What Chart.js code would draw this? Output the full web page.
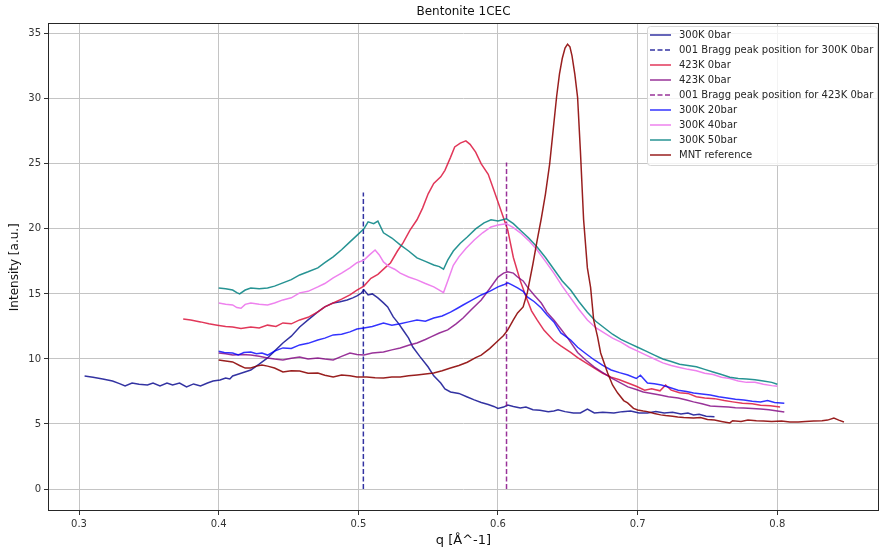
<!DOCTYPE html>
<html>
<head>
<meta charset="utf-8">
<title>Bentonite 1CEC</title>
<script src="https://cdn.jsdelivr.net/npm/chart.js@4.4.0/dist/chart.umd.min.js"></script>
<style>
  html, body { margin: 0; padding: 0; background: #fff; }
</style>
</head>
<body>
<canvas id="saxs-chart" width="879" height="551"></canvas>
<script>
// scattering curves, [q (1/Å), intensity (a.u.)]
const k300bar0 = [
  [0.304, 8.69], [0.31, 8.6], [0.317, 8.46], [0.324, 8.3], [0.329, 8.1], [0.333, 7.92], [0.338, 8.15],
  [0.343, 8.05], [0.349, 8.0], [0.353, 8.15], [0.358, 7.92], [0.363, 8.15], [0.367, 8.0], [0.372, 8.15],
  [0.377, 7.85], [0.382, 8.08], [0.387, 7.92], [0.392, 8.15], [0.396, 8.3], [0.401, 8.38], [0.405, 8.54],
  [0.408, 8.46], [0.41, 8.69], [0.416, 8.9], [0.423, 9.15], [0.429, 9.6], [0.435, 10.08], [0.44, 10.6],
  [0.446, 11.23], [0.452, 11.75], [0.458, 12.46], [0.464, 13.0], [0.471, 13.62], [0.476, 14.0],
  [0.482, 14.31], [0.487, 14.4], [0.492, 14.54], [0.496, 14.7], [0.499, 14.85], [0.502, 15.05],
  [0.504, 15.31], [0.507, 14.92], [0.51, 15.0], [0.514, 14.69], [0.518, 14.31], [0.521, 14.0],
  [0.525, 13.23], [0.529, 12.7], [0.532, 12.23], [0.536, 11.6], [0.539, 10.92], [0.544, 10.2],
  [0.55, 9.38], [0.554, 8.7], [0.559, 8.15], [0.562, 7.7], [0.566, 7.46], [0.572, 7.35], [0.578, 7.08],
  [0.583, 6.85], [0.588, 6.65], [0.593, 6.5], [0.597, 6.35], [0.6, 6.2], [0.604, 6.3], [0.607, 6.46],
  [0.611, 6.35], [0.616, 6.23], [0.62, 6.3], [0.625, 6.1], [0.63, 6.05], [0.636, 5.95], [0.64, 6.0],
  [0.643, 6.1], [0.648, 5.95], [0.654, 5.85], [0.659, 5.85], [0.664, 6.15], [0.669, 5.85], [0.675, 5.9],
  [0.683, 5.85], [0.689, 5.95], [0.695, 6.0], [0.701, 5.85], [0.707, 5.85], [0.713, 5.95], [0.719, 5.85],
  [0.725, 5.9], [0.731, 5.77], [0.736, 5.85], [0.74, 5.7], [0.744, 5.75], [0.749, 5.6], [0.755, 5.55],
];

const k423bar0 = [
  [0.3746, 13.08], [0.38, 13.0], [0.387, 12.85], [0.393, 12.7], [0.399, 12.6], [0.405, 12.5], [0.41, 12.46],
  [0.416, 12.35], [0.423, 12.46], [0.429, 12.38], [0.435, 12.6], [0.441, 12.5], [0.446, 12.77],
  [0.452, 12.7], [0.458, 13.0], [0.464, 13.2], [0.471, 13.62], [0.476, 14.0], [0.482, 14.3], [0.488, 14.6],
  [0.494, 14.92], [0.499, 15.3], [0.504, 15.6], [0.509, 16.2], [0.514, 16.5], [0.52, 17.1], [0.523, 17.38],
  [0.528, 18.3], [0.532, 18.92], [0.537, 19.9], [0.542, 20.7], [0.546, 21.6], [0.55, 22.7], [0.554, 23.5],
  [0.559, 24.0], [0.562, 24.5], [0.566, 25.5], [0.569, 26.3], [0.573, 26.6], [0.577, 26.77], [0.58, 26.5],
  [0.584, 25.9], [0.588, 25.0], [0.593, 24.2], [0.597, 23.0], [0.602, 21.46], [0.607, 19.9], [0.611, 17.8],
  [0.616, 16.0], [0.62, 14.8], [0.624, 13.7], [0.628, 13.0], [0.633, 12.2], [0.64, 11.4], [0.645, 11.0],
  [0.652, 10.5], [0.657, 10.1], [0.663, 9.7], [0.669, 9.3], [0.675, 8.9], [0.681, 8.6], [0.687, 8.4],
  [0.693, 8.15], [0.699, 7.9], [0.705, 7.6], [0.71, 7.7], [0.716, 7.55], [0.72, 8.0], [0.724, 7.6],
  [0.73, 7.4], [0.736, 7.35], [0.742, 7.1], [0.748, 7.0], [0.755, 6.95], [0.762, 6.8], [0.768, 6.7],
  [0.775, 6.6], [0.782, 6.55], [0.788, 6.45], [0.795, 6.4], [0.802, 6.3],
];

const k423bar0b = [
  [0.4, 10.46], [0.405, 10.4], [0.41, 10.3], [0.416, 10.35], [0.423, 10.3], [0.429, 10.2], [0.435, 10.08],
  [0.44, 10.0], [0.446, 9.92], [0.452, 10.05], [0.458, 10.15], [0.464, 10.0], [0.471, 10.08], [0.476, 10.0],
  [0.482, 9.92], [0.488, 10.2], [0.494, 10.46], [0.499, 10.35], [0.504, 10.3], [0.51, 10.45], [0.518, 10.54],
  [0.524, 10.7], [0.53, 10.85], [0.536, 11.05], [0.542, 11.23], [0.548, 11.5], [0.552, 11.7], [0.558, 12.0],
  [0.564, 12.23], [0.57, 12.7], [0.575, 13.15], [0.581, 13.8], [0.588, 14.54], [0.594, 15.4], [0.6, 16.3],
  [0.604, 16.6], [0.607, 16.7], [0.611, 16.6], [0.614, 16.3], [0.618, 16.0], [0.621, 15.54], [0.626, 14.9],
  [0.631, 14.3], [0.635, 13.6], [0.64, 13.0], [0.645, 12.3], [0.65, 11.6], [0.657, 10.5], [0.663, 9.9],
  [0.669, 9.38], [0.675, 8.95], [0.681, 8.54], [0.687, 8.2], [0.693, 7.85], [0.699, 7.65], [0.704, 7.46],
  [0.71, 7.35], [0.716, 7.23], [0.722, 7.1], [0.729, 7.0], [0.735, 6.85], [0.74, 6.7], [0.746, 6.55],
  [0.752, 6.38], [0.758, 6.35], [0.765, 6.3], [0.77, 6.25], [0.776, 6.23], [0.782, 6.2], [0.788, 6.15],
  [0.794, 6.1], [0.8, 6.0], [0.805, 5.92],
];

const k300bar20 = [
  [0.4, 10.6], [0.404, 10.5], [0.41, 10.46], [0.414, 10.3], [0.418, 10.5], [0.423, 10.54], [0.427, 10.4],
  [0.431, 10.45], [0.435, 10.3], [0.44, 10.6], [0.446, 10.85], [0.452, 10.8], [0.458, 11.08], [0.464, 11.2],
  [0.471, 11.46], [0.476, 11.6], [0.482, 11.85], [0.488, 11.9], [0.494, 12.08], [0.499, 12.3],
  [0.504, 12.38], [0.51, 12.5], [0.518, 12.77], [0.524, 12.6], [0.53, 12.7], [0.536, 12.85], [0.542, 13.0],
  [0.548, 12.9], [0.554, 13.15], [0.56, 13.3], [0.566, 13.6], [0.571, 13.9], [0.575, 14.15], [0.581, 14.5],
  [0.588, 14.92], [0.594, 15.2], [0.6, 15.54], [0.604, 15.7], [0.607, 15.85], [0.61, 15.7], [0.614, 15.46],
  [0.618, 15.2], [0.621, 14.77], [0.626, 14.4], [0.631, 13.92], [0.635, 13.4], [0.64, 12.85], [0.645, 12.0],
  [0.652, 11.46], [0.657, 10.9], [0.663, 10.4], [0.669, 9.92], [0.675, 9.5], [0.681, 9.15], [0.687, 8.95],
  [0.693, 8.77], [0.699, 8.5], [0.702, 8.75], [0.707, 8.15], [0.712, 8.1], [0.717, 8.0], [0.723, 7.8],
  [0.729, 7.6], [0.735, 7.5], [0.74, 7.38], [0.746, 7.3], [0.752, 7.23], [0.758, 7.1], [0.764, 7.0],
  [0.77, 6.9], [0.776, 6.85], [0.782, 6.75], [0.788, 6.7], [0.793, 6.8], [0.798, 6.65], [0.805, 6.6],
];

const k300bar40 = [
  [0.4, 14.3], [0.405, 14.2], [0.41, 14.15], [0.413, 13.95], [0.416, 13.9], [0.419, 14.2], [0.423, 14.3],
  [0.429, 14.2], [0.435, 14.15], [0.44, 14.3], [0.446, 14.54], [0.452, 14.7], [0.458, 15.08], [0.464, 15.2],
  [0.471, 15.54], [0.476, 15.8], [0.482, 16.23], [0.488, 16.6], [0.494, 17.0], [0.499, 17.4], [0.504, 17.6],
  [0.508, 18.0], [0.512, 18.38], [0.515, 18.0], [0.518, 17.46], [0.522, 17.1], [0.526, 16.9], [0.53, 16.6],
  [0.536, 16.3], [0.542, 16.08], [0.548, 15.8], [0.554, 15.54], [0.558, 15.3], [0.561, 15.1], [0.564, 16.0],
  [0.568, 17.2], [0.572, 17.85], [0.577, 18.5], [0.583, 19.15], [0.589, 19.7], [0.595, 20.15], [0.6, 20.3],
  [0.606, 20.4], [0.611, 20.1], [0.616, 19.7], [0.622, 19.1], [0.628, 18.38], [0.634, 17.5], [0.64, 16.6],
  [0.646, 15.6], [0.652, 14.7], [0.658, 13.8], [0.664, 13.0], [0.67, 12.4], [0.676, 12.0], [0.682, 11.6],
  [0.688, 11.3], [0.694, 10.9], [0.7, 10.6], [0.706, 10.3], [0.712, 10.0], [0.718, 9.7], [0.724, 9.5],
  [0.73, 9.35], [0.736, 9.2], [0.742, 9.1], [0.748, 8.9], [0.754, 8.8], [0.76, 8.6], [0.766, 8.5],
  [0.772, 8.3], [0.778, 8.2], [0.784, 8.2], [0.79, 8.05], [0.796, 7.95], [0.8, 7.9],
];

const k300bar50 = [
  [0.4, 15.46], [0.405, 15.4], [0.41, 15.3], [0.413, 15.1], [0.415, 15.0], [0.419, 15.3], [0.423, 15.46],
  [0.429, 15.4], [0.435, 15.46], [0.44, 15.6], [0.446, 15.85], [0.452, 16.1], [0.458, 16.46], [0.464, 16.7],
  [0.471, 17.0], [0.476, 17.4], [0.482, 17.85], [0.488, 18.4], [0.494, 19.0], [0.499, 19.5], [0.504, 20.0],
  [0.507, 20.54], [0.511, 20.4], [0.514, 20.6], [0.518, 19.7], [0.524, 19.3], [0.53, 18.77], [0.536, 18.3],
  [0.542, 17.77], [0.548, 17.5], [0.554, 17.23], [0.558, 17.1], [0.561, 16.9], [0.564, 17.6], [0.568, 18.3],
  [0.573, 18.9], [0.578, 19.38], [0.584, 20.0], [0.59, 20.46], [0.595, 20.7], [0.6, 20.6], [0.606, 20.77],
  [0.611, 20.4], [0.616, 19.9], [0.622, 19.3], [0.628, 18.6], [0.634, 17.8], [0.64, 16.9], [0.646, 16.0],
  [0.652, 15.3], [0.658, 14.4], [0.664, 13.6], [0.67, 12.9], [0.676, 12.4], [0.682, 11.9], [0.688, 11.5],
  [0.694, 11.2], [0.7, 10.9], [0.706, 10.6], [0.712, 10.3], [0.718, 10.0], [0.724, 9.8], [0.73, 9.6],
  [0.736, 9.5], [0.742, 9.4], [0.748, 9.2], [0.754, 9.0], [0.76, 8.8], [0.766, 8.6], [0.772, 8.5],
  [0.778, 8.45], [0.784, 8.4], [0.79, 8.3], [0.796, 8.2], [0.8, 8.05],
];

const mntReference = [
  [0.4, 9.92], [0.405, 9.85], [0.41, 9.77], [0.415, 9.5], [0.419, 9.3], [0.423, 9.3], [0.427, 9.45],
  [0.431, 9.54], [0.435, 9.45], [0.44, 9.3], [0.446, 9.0], [0.452, 9.1], [0.458, 9.08], [0.464, 8.9],
  [0.471, 8.92], [0.476, 8.75], [0.482, 8.62], [0.488, 8.77], [0.494, 8.7], [0.499, 8.62], [0.506, 8.62],
  [0.512, 8.55], [0.518, 8.54], [0.524, 8.62], [0.53, 8.62], [0.536, 8.7], [0.542, 8.77], [0.548, 8.85],
  [0.554, 8.92], [0.56, 9.1], [0.566, 9.3], [0.572, 9.5], [0.578, 9.75], [0.584, 10.1], [0.588, 10.3],
  [0.594, 10.8], [0.6, 11.4], [0.604, 11.8], [0.607, 12.23], [0.611, 13.0], [0.614, 13.54], [0.618, 14.0],
  [0.621, 15.1], [0.625, 17.3], [0.628, 19.1], [0.631, 20.8], [0.634, 22.7], [0.637, 25.0], [0.6395, 27.6],
  [0.642, 30.2], [0.644, 31.9], [0.646, 33.1], [0.648, 33.9], [0.6498, 34.2], [0.6515, 34.0], [0.653, 33.3],
  [0.655, 31.9], [0.657, 30.1], [0.659, 26.0], [0.6613, 20.7], [0.664, 17.0], [0.6663, 15.5], [0.6685, 13.0],
  [0.6713, 11.7], [0.6735, 10.46], [0.6785, 8.92], [0.682, 8.0], [0.6857, 7.38], [0.69, 6.8], [0.6928, 6.62],
  [0.697, 6.2], [0.7, 6.08], [0.704, 6.0], [0.707, 5.95], [0.712, 5.8], [0.7165, 5.7], [0.72, 5.65],
  [0.725, 5.6], [0.7287, 5.54], [0.733, 5.5], [0.74, 5.46], [0.745, 5.5], [0.75, 5.35], [0.755, 5.3],
  [0.76, 5.2], [0.766, 5.08], [0.768, 5.25], [0.774, 5.2], [0.779, 5.3], [0.785, 5.25], [0.79, 5.23],
  [0.796, 5.2], [0.803, 5.23], [0.809, 5.15], [0.815, 5.15], [0.82, 5.2], [0.826, 5.23], [0.832, 5.25],
  [0.836, 5.3], [0.8405, 5.46], [0.844, 5.3], [0.8477, 5.15],
];

// 001 Bragg peak markers: [q, top of the marker]
const bragg300 = [[0.5036, 0], [0.5036, 22.8]];
const bragg423 = [[0.6061, 0], [0.6061, 25.1]];

const xTicks = [0.3, 0.4, 0.5, 0.6, 0.7, 0.8];
const yTicks = [0, 5, 10, 15, 20, 25, 30, 35];

const FONT = 'DejaVu Sans';

const toPoints = (rows) => rows.map(([x, y]) => ({ x, y }));

const series = [
  { label: '300K 0bar', rows: k300bar0, color: 'rgba(0, 0, 139, 0.8)' },
  { label: '001 Bragg peak position for 300K 0bar', rows: bragg300, color: 'rgba(0, 0, 139, 0.8)', dash: [5, 2.5] },
  { label: '423K 0bar', rows: k423bar0, color: 'rgba(220, 20, 60, 0.85)' },
  { label: '423K 0bar', rows: k423bar0b, color: 'rgba(128, 0, 128, 0.8)' },
  { label: '001 Bragg peak position for 423K 0bar', rows: bragg423, color: 'rgba(128, 0, 128, 0.8)', dash: [5, 2.5] },
  { label: '300K 20bar', rows: k300bar20, color: 'rgba(0, 0, 255, 0.8)' },
  { label: '300K 40bar', rows: k300bar40, color: 'rgba(238, 130, 238, 1)' },
  { label: '300K 50bar', rows: k300bar50, color: 'rgba(0, 128, 128, 0.85)' },
  { label: 'MNT reference', rows: mntReference, color: 'rgba(139, 0, 0, 0.88)' },
];

// axes box on all four sides
const frame = {
  id: 'frame',
  afterDatasetsDraw(chart) {
    const { ctx, chartArea: { left, top, right, bottom } } = chart;
    ctx.save();
    ctx.strokeStyle = '#262626';
    ctx.lineWidth = 1;
    ctx.strokeRect(Math.round(left) + 0.5, Math.round(top) + 0.5,
      Math.round(right - left) - 1, Math.round(bottom - top) - 1);
    ctx.restore();
  },
};

// legend box in the upper right corner of the plot
const insideLegend = {
  id: 'insideLegend',
  afterDraw(chart) {
    const { ctx, chartArea } = chart;
    const sets = chart.data.datasets;
    ctx.save();
    ctx.font = `10px "${FONT}"`;
    let maxW = 0;
    sets.forEach((ds) => { maxW = Math.max(maxW, ctx.measureText(ds.label).width); });
    const rowH = 15;
    const w = Math.round(maxW + 36);
    const h = sets.length * rowH + 4;
    const x = Math.round(chartArea.right - 2 - w);
    const y = Math.round(chartArea.top + 3);

    ctx.beginPath();
    ctx.roundRect(x + 0.5, y + 0.5, w, h, 3);
    ctx.fillStyle = 'rgba(255, 255, 255, 0.8)';
    ctx.fill();
    ctx.strokeStyle = '#d6d6d6';
    ctx.lineWidth = 1;
    ctx.stroke();

    sets.forEach((ds, i) => {
      const cy = y + 9 + i * rowH;
      ctx.beginPath();
      ctx.setLineDash(ds.borderDash || []);
      ctx.strokeStyle = ds.borderColor;
      ctx.lineWidth = 1.5;
      ctx.moveTo(x + 3, cy);
      ctx.lineTo(x + 24, cy);
      ctx.stroke();
      ctx.setLineDash([]);
      ctx.fillStyle = '#262626';
      ctx.textBaseline = 'middle';
      ctx.fillText(ds.label, x + 32, cy);
    });
    ctx.restore();
  },
};

const ctx = document.getElementById('saxs-chart').getContext('2d');

new Chart(ctx, {
  type: 'line',
  data: {
    datasets: series.map((s, i) => ({
      label: s.label,
      data: toPoints(s.rows),
      borderColor: s.color,
      backgroundColor: s.color,
      borderWidth: 1.5,
      borderDash: s.dash || [],
      pointRadius: 0,
      tension: 0,
      fill: false,
      order: series.length - i,
    })),
  },
  options: {
    responsive: false,
    animation: false,
    layout: { padding: { left: 0, right: 0, top: 0, bottom: 0 } },
    plugins: {
      legend: { display: false },
      tooltip: { enabled: false },
      title: {
        display: true,
        text: 'Bentonite 1CEC',
        fullSize: false,
        color: '#111',
        font: { family: FONT, size: 12, weight: 'normal' },
        padding: { top: 5, bottom: 4 },
      },
    },
    scales: {
      x: {
        type: 'linear',
        min: 0.2778,
        max: 0.8728,
        afterFit: (scale) => { scale.height = 40; },
        afterBuildTicks: (scale) => { scale.ticks = xTicks.map((v) => ({ value: v })); },
        ticks: {
          color: '#333',
          font: { family: FONT, size: 10 },
          padding: 3,
          maxRotation: 0,
          callback: (v) => v.toFixed(1),
        },
        grid: { color: '#c4c4c4', lineWidth: 1, tickColor: '#333', tickLength: 4 },
        border: { display: false },
        title: {
          display: true,
          text: 'q [Å^-1]',
          color: '#111',
          font: { family: FONT, size: 13 },
          padding: { top: 0, bottom: 3 },
        },
      },
      y: {
        type: 'linear',
        min: -1.69,
        max: 35.8,
        afterFit: (scale) => { scale.width = 48; },
        afterBuildTicks: (scale) => { scale.ticks = yTicks.map((v) => ({ value: v })); },
        ticks: {
          color: '#333',
          font: { family: FONT, size: 10 },
          padding: 3,
          callback: (v) => String(v),
        },
        grid: { color: '#c4c4c4', lineWidth: 1, tickColor: '#333', tickLength: 4 },
        border: { display: false },
        title: {
          display: true,
          text: 'Intensity [a.u.]',
          color: '#111',
          font: { family: FONT, size: 12 },
          padding: { top: 8, bottom: 0 },
        },
      },
    },
  },
  plugins: [frame, insideLegend],
});
</script>
</body>
</html>
